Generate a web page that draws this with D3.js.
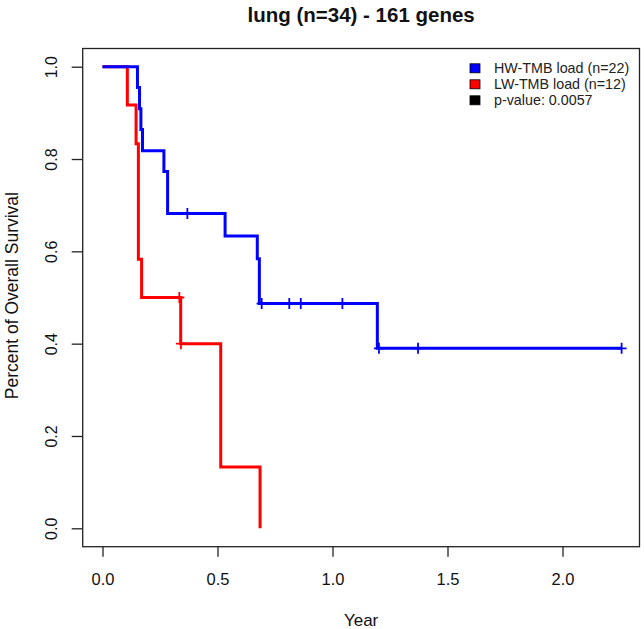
<!DOCTYPE html>
<html>
<head>
<meta charset="utf-8">
<script src="https://cdn.jsdelivr.net/npm/d3@7"></script>
<style>
  body { margin: 0; background: #fff; }
  svg { display: block; font-family: Arial, "Liberation Sans", sans-serif; }
</style>
</head>
<body>
<svg id="chart" width="644" height="629"></svg>
<script>
// ---- data ----
const title = "lung (n=34) - 161 genes";
const seriesNames = ["HW-TMB load (n=22)", "LW-TMB load (n=12)"];
const pValueLabel = "p-value: 0.0057";
const hwTimes = [0, 0.152, 0.161, 0.167, 0.174, 0.267, 0.283, 0.533, 0.673, 0.682, 1.195, 2.257];
const hwSurv  = [1, 0.955, 0.909, 0.864, 0.818, 0.773, 0.682, 0.633, 0.584, 0.487, 0.390, 0.390];
const hwCensor = [0.369, 0.692, 0.812, 0.862, 1.043, 1.202, 1.372, 2.257];
const lwTimes = [0, 0.108, 0.146, 0.156, 0.170, 0.340, 0.514, 0.685];
const lwSurv  = [1, 0.917, 0.833, 0.583, 0.5, 0.4, 0.133, 0];
const lwCensor = [0.334, 0.341];
const xTicks = [0, 0.5, 1.0, 1.5, 2.0];
const yTicks = [0, 0.2, 0.4, 0.6, 0.8, 1.0];
const xLabel = "Year";
const yLabel = "Percent of Overall Survival";
const colors = ["#0000FF", "#FF0000", "#000000"];

// ---- layout ----
const box = {left: 82.7, top: 48.5, right: 639.5, bottom: 546.7};
const svg = d3.select("#chart");

const x = d3.scaleLinear().domain([0, 2]).range([102.5, 562.5]);
const y = d3.scaleLinear().domain([0, 1]).range([528.3, 66.7]);

// title
svg.append("text").attr("x", (box.left + box.right) / 2).attr("y", 22)
  .attr("text-anchor", "middle").attr("font-weight", "bold").attr("font-size", 20.5)
  .attr("fill", "#111").text(title);

// axes
const xAxis = svg.append("g").attr("transform", `translate(0,${box.bottom})`)
  .call(d3.axisBottom(x).tickValues(xTicks).tickFormat(d3.format(".1f")).tickSize(10).tickSizeOuter(0).tickPadding(0));
xAxis.select(".domain").remove();
xAxis.selectAll("line").attr("stroke", "#222").attr("stroke-width", 1.3);
xAxis.selectAll("text").attr("font-size", 16.5).attr("fill", "#111").attr("dy", null).attr("y", 38.5)
  .attr("font-family", "Arial, 'Liberation Sans', sans-serif");

const yAxis = svg.append("g").attr("transform", `translate(${box.left},0)`)
  .call(d3.axisLeft(y).tickValues(yTicks).tickFormat(d3.format(".1f")).tickSize(11).tickSizeOuter(0));
yAxis.select(".domain").remove();
yAxis.selectAll("line").attr("stroke", "#222").attr("stroke-width", 1.3);
yAxis.selectAll("text").attr("font-size", 16).attr("fill", "#111")
  .attr("font-family", "Arial, 'Liberation Sans', sans-serif")
  .attr("x", null).attr("dy", null).attr("text-anchor", "middle")
  .attr("transform", "translate(-26,0) rotate(-90)");

// box
svg.append("rect").attr("x", box.left).attr("y", box.top)
  .attr("width", box.right - box.left).attr("height", box.bottom - box.top)
  .attr("fill", "none").attr("stroke", "#222").attr("stroke-width", 1.3);

// axis titles
svg.append("text").attr("x", (box.left + box.right) / 2).attr("y", 626)
  .attr("text-anchor", "middle").attr("font-size", 17).attr("fill", "#111").text(xLabel);
svg.append("text").attr("transform", `translate(18,${(box.top + box.bottom) / 2 - 2}) rotate(-90)`)
  .attr("text-anchor", "middle").attr("font-size", 17.5).attr("fill", "#111").text(yLabel);

// curves
const line = d3.line().x(d => x(d[0])).y(d => y(d[1])).curve(d3.curveStepAfter);
function survAt(times, surv, t) {
  let s = surv[0];
  for (let i = 0; i < times.length; i++) if (times[i] <= t) s = surv[i];
  return s;
}
const series = [
  {times: hwTimes, surv: hwSurv, censor: hwCensor, color: colors[0]},
  {times: lwTimes, surv: lwSurv, censor: lwCensor, color: colors[1]}
];
const plot = svg.append("g");
// draw red first, blue over it (blue on top at start)
[series[1], series[0]].forEach(s => {
  const pts = s.times.map((t, i) => [t, s.surv[i]]);
  plot.append("path").attr("d", line(pts)).attr("fill", "none")
    .attr("stroke", s.color).attr("stroke-width", 3).attr("stroke-linejoin", "miter").attr("stroke-linecap", "butt");
  s.censor.forEach(t => {
    const cx = x(t), cy = y(survAt(s.times, s.surv, t));
    plot.append("path").attr("d", `M${cx - 5},${cy}H${cx + 5}M${cx},${cy - 5.5}V${cy + 5.5}`)
      .attr("stroke", s.color).attr("stroke-width", 1.8).attr("fill", "none");
  });
});

// legend
const legendLabels = [seriesNames[0], seriesNames[1], pValueLabel];
const lg = svg.append("g");
legendLabels.forEach((lab, i) => {
  const cy = 68.3 + i * 16;
  lg.append("rect").attr("x", 470).attr("y", cy - 4.5).attr("width", 10).attr("height", 9)
    .attr("fill", colors[i]).attr("stroke", "#000").attr("stroke-width", 0.8);
  lg.append("text").attr("x", 494).attr("y", cy + 5).attr("font-size", 14.3).attr("fill", "#222").text(lab);
});
</script>
</body>
</html>
